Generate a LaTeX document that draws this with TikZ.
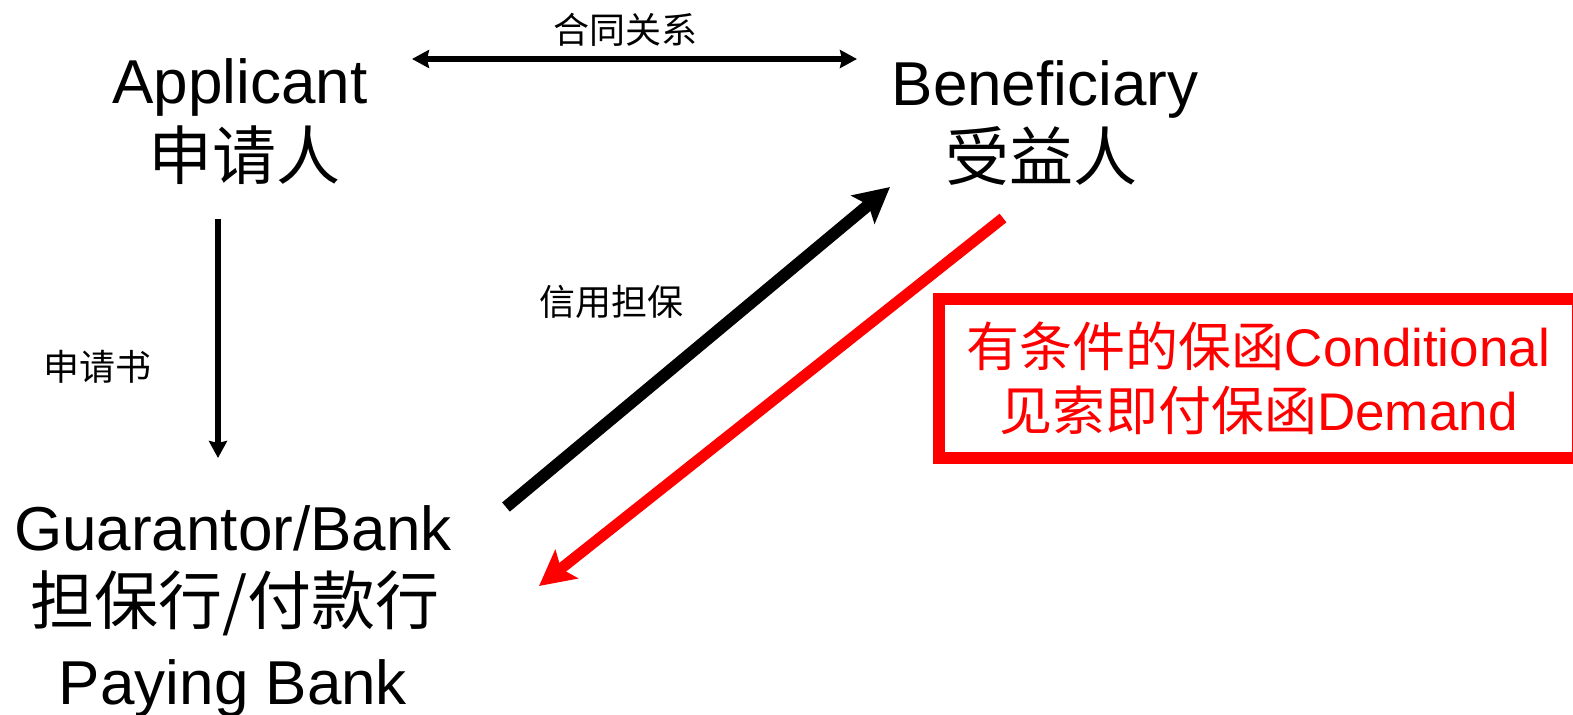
\documentclass[tikz,border=0pt]{standalone}
\usepackage{fontspec}
\setmainfont{Liberation Sans}
\newfontfamily\cjk{Noto Sans CJK SC}
\usetikzlibrary{arrows.meta}
\definecolor{pptred}{RGB}{255,0,0}
\begin{document}
\begin{tikzpicture}[x=0.5pt,y=-0.5pt,
  biglat/.style={font=\fontsize{31}{36}\selectfont, inner sep=0pt, anchor=base},
  bigcn/.style={font=\fontsize{32}{36}\selectfont\cjk, inner sep=0pt},
  smallcn/.style={font=\fontsize{18}{22}\selectfont\cjk, inner sep=0pt},
  thinarrow/.style={line width=2.75pt, -{Stealth[length=8.5pt,width=9pt,inset=1pt]}},
  dblarrow/.style={line width=2.75pt, {Stealth[length=8.5pt,width=9pt,inset=1pt]}-{Stealth[length=8.5pt,width=9pt,inset=1pt]}},
  fatarrow/.style={line width=6pt, -{Stealth[length=17.5pt,width=18pt,inset=3.5pt]}},
  redbox/.style={draw=pptred, line width=6pt, text=pptred, align=center, inner sep=0pt,
    font=\fontsize{26.5}{32}\selectfont}
]
\useasboundingbox (0,0) rectangle (1573,714);
\fill[white] (0,0) rectangle (1573,714);

% main parties
\node[biglat] (app) at (240,103) {Applicant};
\node[bigcn] (appcn) at (244,155.5) {申请人};
\node[biglat] (ben) at (1045,105) {Beneficiary};
\node[bigcn] (bencn) at (1041,156) {受益人};
\node[biglat] (gua) at (233,550) {Guarantor/Bank};
\node[bigcn] (guacn) at (235,603) {担保行/付款行};
\node[biglat] (pay) at (233,704) {Paying Bank};

% small labels
\node[smallcn] (contract) at (625,30) {合同关系};
\node[smallcn] (applic) at (97,367) {申请书};
\node[smallcn] (credit) at (611,302) {信用担保};

% red box
\node[redbox, minimum width=319.6pt, minimum height=79.25pt] (box) at (1258.4,378.25)
  {{\cjk 有条件的保函}Conditional\\{\cjk 见索即付保函}Demand};

% connector end points
\coordinate (c1) at (412,59);
\coordinate (c2) at (857,59);
\coordinate (v1) at (218,219);
\coordinate (v2) at (218,458);
\coordinate (b1) at (506,507);
\coordinate (b2) at (890,187);
\coordinate (r1) at (1003,218);
\coordinate (r2) at (539,586);

\draw[dblarrow] (c1) -- (c2);
\draw[thinarrow] (v1) -- (v2);
\draw[fatarrow, black] (b1) -- (b2);
\draw[fatarrow, pptred, line width=5.5pt] (r1) -- (r2);
\end{tikzpicture}
\end{document}
